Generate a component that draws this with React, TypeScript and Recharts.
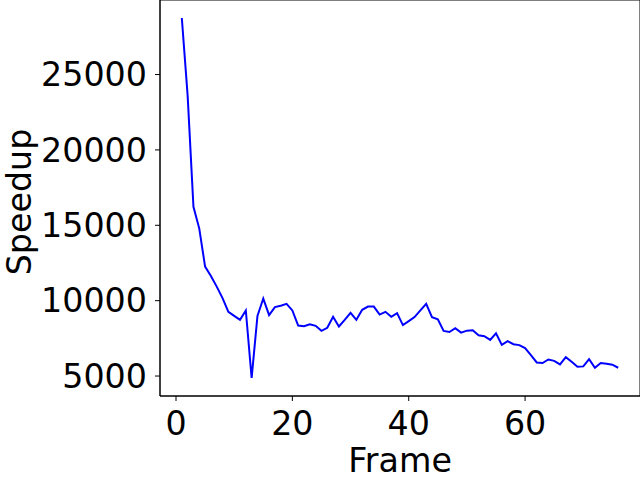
import { LineChart, Line, XAxis, YAxis, ReferenceArea } from 'recharts'

const frames = Array.from({ length: 76 }, (_, i) => i + 1)

const speedup = [
  28750, 23600, 16230, 14780, 12260, 11640, 10930, 10170, 9260, 8990,
  8730, 9350, 4870, 8990, 10140, 9040, 9570, 9660, 9790, 9350,
  8350, 8310, 8440, 8330, 8000, 8200, 8930, 8290, 8730, 9190,
  8730, 9390, 9610, 9610, 9080, 9260, 8930, 9170, 8380, 8640,
  8910, 9350, 9790, 8910, 8760, 7990, 7920, 8170, 7880, 8010,
  8030, 7700, 7640, 7400, 7840, 7070, 7310, 7110, 7050, 6850,
  6390, 5900, 5860, 6100, 6010, 5770, 6250, 5950, 5610, 5640,
  6120, 5550, 5860, 5810, 5750, 5550,
]

const xTicks = [0, 20, 40, 60]
const yTicks = [5000, 10000, 15000, 20000, 25000]

const data = frames.map((f, i) => ({ frame: f, speedup: speedup[i] }))

// matplotlib-style 5% padding around the data
const pad = (lo: number, hi: number): [number, number] => {
  const m = (hi - lo) * 0.05
  return [lo - m, hi + m]
}
const xDomain = pad(Math.min(...frames), Math.max(...frames))
const yDomain = pad(Math.min(...speedup), Math.max(...speedup))

const FONT = '"DejaVu Sans", sans-serif'
const tickStyle = { fontSize: 33.3, fill: '#000', fontFamily: FONT }

function YLabel({ viewBox }: any) {
  const cx = viewBox.x + 19
  const cy = viewBox.y + viewBox.height / 2 + 4
  return (
    <text x={cx} y={cy} transform={`rotate(-90, ${cx}, ${cy})`} textAnchor="middle" dominantBaseline="central"
      fontSize={33.3} fontFamily={FONT} fill="#000">
      Speedup
    </text>
  )
}

export default function App() {
  return (
    <div style={{ position: 'absolute', left: 0, top: 0, background: '#fff' }}>
      <LineChart width={640} height={480} data={data} margin={{ top: 0, right: 0, bottom: 0, left: 0 }}>
        <XAxis
          dataKey="frame"
          type="number"
          domain={xDomain}
          ticks={xTicks}
          allowDataOverflow
          height={84}
          tickSize={5}
          tickMargin={10}
          tick={tickStyle}
          axisLine={{ stroke: '#000' }}
          tickLine={{ stroke: '#000' }}
          label={{ value: 'Frame', position: 'insideBottom', offset: 8, style: { ...tickStyle, textAnchor: 'middle' } }}
        />
        <YAxis
          type="number"
          domain={yDomain}
          ticks={yTicks}
          allowDataOverflow
          width={160}
          tickSize={5}
          tickMargin={8}
          tick={tickStyle}
          axisLine={{ stroke: '#000' }}
          tickLine={{ stroke: '#000' }}
          label={<YLabel />}
        />
        <ReferenceArea x1={xDomain[0]} x2={xDomain[1]} y1={yDomain[0]} y2={yDomain[1]} fill="none" stroke="#000" strokeWidth={1} />
        <Line dataKey="speedup" stroke="#0000ff" strokeWidth={2} dot={false} isAnimationActive={false} />
      </LineChart>
    </div>
  )
}
